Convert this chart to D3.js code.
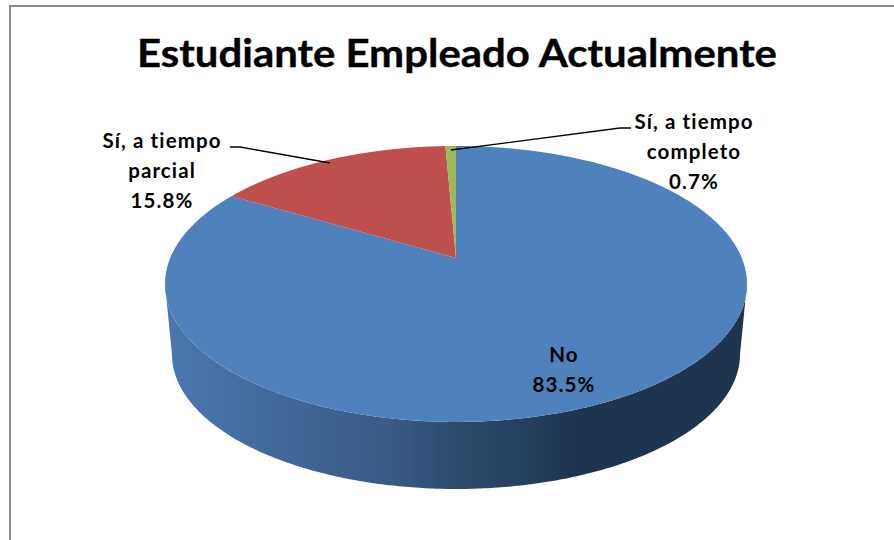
<!DOCTYPE html>
<html><head><meta charset="utf-8">
<script src="https://cdn.jsdelivr.net/npm/d3@7"></script>
<style>html,body{margin:0;padding:0;background:#fff}svg{display:block}text{font-family:Lato,"Open Sans",sans-serif;font-weight:700;fill:#000}</style>
</head><body><svg id="c" width="894" height="540"></svg>
<script>
const categories = ["No", "Sí, a tiempo parcial", "Sí, a tiempo completo"];
const shares = [83.5, 15.8, 0.7];
const sliceColors = ["#4f81bd", "#c0504d", "#9bbb59"];
const titleText = "Estudiante Empleado Actualmente";

const svg = d3.select("#c");
svg.append("path").attr("d","M10 540V6H894").attr("fill","none").attr("stroke","#8c8c8c").attr("stroke-width",2);

// perspective projection of the pie disc
const cx=456, apexY=258, K=285.8, k=133.1, c=-0.188, depth=71, shrink=0.976;
function proj(a, s=1, dy=0){
  const u=Math.sin(a), v=-Math.cos(a), d=1+c*v;
  return [cx+s*K*u/d, apexY+dy+s*k*v/d];
}
const line=d3.line();
const arcs=d3.pie().sort(null).value(d=>d)(shares);

// side wall (front half)
const g=svg.append("defs").append("linearGradient").attr("id","wall").attr("gradientUnits","userSpaceOnUse")
  .attr("x1",165).attr("x2",747).attr("y1",0).attr("y2",0);
[[0,"#4a78ae"],[0.2,"#40689a"],[0.4,"#375a85"],[0.5,"#2d4a6e"],[0.62,"#25405f"],[0.7,"#1f344e"],[1,"#1f344e"]]
 .forEach(s=>g.append("stop").attr("offset",s[0]).attr("stop-color",s[1]));

const right=Math.acos(c);
const front=d3.range(right, 2*Math.PI-right+1e-6, 0.01);
const wall=front.map(a=>proj(a)).concat(front.slice().reverse().map(a=>proj(a,shrink,depth)));
svg.append("path").attr("d",line(wall)+"Z").attr("fill","url(#wall)");

// top slices
arcs.forEach((d,i)=>{
  const pts=[[cx,apexY]].concat(d3.range(d.startAngle,d.endAngle,0.005).map(a=>proj(a)),[proj(d.endAngle)]);
  svg.append("path").attr("d",line(pts)+"Z").attr("fill",sliceColors[i]);
});

// leaders
svg.append("path").attr("d","M230 147H240L330 163").attr("fill","none").attr("stroke","#000").attr("stroke-width",1.3);
svg.append("path").attr("d","M631 128H620L451 150").attr("fill","none").attr("stroke","#000").attr("stroke-width",1.3);

// text
svg.append("text").attr("x",457).attr("y",67).attr("text-anchor","middle").attr("font-size",39)
  .attr("stroke","#000").attr("stroke-width",0.4)
  .attr("textLength",640).attr("lengthAdjust","spacingAndGlyphs").text(titleText);
const fmt=v=>v.toFixed(1)+"%";
const labels=[
 {x:564,y:[362,392],t:["No",fmt(shares[0])]},
 {x:162,y:[148,178,208],t:["Sí, a tiempo","parcial",fmt(shares[1])]},
 {x:694,y:[129,159,189],t:["Sí, a tiempo","completo",fmt(shares[2])]}];
labels.forEach(l=>l.t.forEach((t,j)=>svg.append("text").attr("x",l.x).attr("y",l.y[j])
  .attr("text-anchor","middle").attr("font-size",20.5).attr("letter-spacing",1.1).text(t)));
</script></body></html>
